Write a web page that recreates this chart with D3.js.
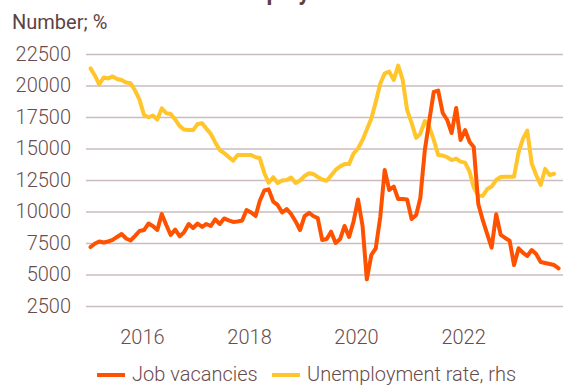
<!DOCTYPE html>
<html>
<head>
<meta charset="utf-8">
<script src="https://cdn.jsdelivr.net/npm/d3@7"></script>
<style>
  html, body { margin: 0; padding: 0; background: #fff; }
  svg { display: block; font-family: Roboto, "Noto Sans", sans-serif; }
</style>
</head>
<body>
<svg id="chart" width="565" height="385"></svg>
<script>
// Monthly observations, January 2015 onwards
const startYear = 2015;

// Job vacancies (number, left axis)
const jobVacancies = [
  7180, 7460, 7620, 7540, 7620, 7740, 7980, 8210, 7860, 7700, 8060, 8450,
  8530, 9050, 8850, 8530, 9800, 8930, 8140, 8570, 8020, 8370, 9010, 8690,
  9050, 8770, 9010, 8850, 9370, 9010, 9450, 9290, 9170, 9210, 9290, 10120,
  9920, 9640, 10830, 11670, 11760, 10790, 10520, 9920, 10200, 9800, 9210, 8530,
  9640, 9900, 9640, 9480, 7740, 7820, 8400, 7500, 7820, 8850, 7980, 9190,
  10950, 8850, 4620, 6550, 7080, 9590, 13290, 11710, 11970, 10990, 10990, 10950,
  9410, 9720, 11050, 14880, 17180, 19490, 19590, 17820, 17260, 16230, 18220, 15680,
  16470, 15520, 15120, 10600, 9330, 8210, 7130, 9780, 8140, 7900, 7680, 5750,
  7080, 6710, 6470, 6940, 6630, 5990, 5910, 5830, 5750, 5490
];

// Unemployment rate (%, right axis)
const unemploymentRate = [
  9.43, 9.13, 8.79, 9.07, 9.03, 9.11, 9.01, 8.97, 8.87, 8.84, 8.55, 8.19,
  7.58, 7.49, 7.56, 7.40, 7.84, 7.65, 7.62, 7.40, 7.14, 7.00, 6.98, 6.98,
  7.22, 7.25, 7.04, 6.83, 6.49, 6.19, 6.07, 5.91, 5.77, 5.99, 5.99, 5.99,
  5.99, 5.90, 5.87, 5.28, 4.89, 5.11, 4.88, 4.98, 5.00, 5.10, 4.88, 4.98,
  5.16, 5.27, 5.24, 5.12, 5.02, 4.97, 5.18, 5.40, 5.54, 5.63, 5.63, 6.05,
  6.25, 6.59, 7.00, 7.44, 8.10, 8.83, 9.23, 9.30, 8.97, 9.54, 8.97, 7.78,
  7.26, 6.67, 6.83, 7.34, 7.12, 6.59, 5.99, 5.97, 5.91, 5.79, 5.85, 5.73,
  5.69, 5.32, 4.70, 4.38, 4.37, 4.64, 4.74, 5.00, 5.12, 5.13, 5.13, 5.13,
  6.11, 6.65, 6.96, 5.65, 5.20, 4.80, 5.44, 5.20, 5.25
];

const leftTicks = [2500, 5000, 7500, 10000, 12500, 15000, 17500, 20000, 22500];
const yearTicks = [2016, 2018, 2020, 2022];

const titleText = "Job vacancies and unemployment";
const unitText = "Number; %";
const seriesNames = ["Job vacancies", "Unemployment rate, rhs"];

// Styling
const colVac = "#ff5200";
const colUnemp = "#ffc52a";
const textCol = "#5e4242";
const tickCol = "#6a4c4c";
const gridCol = "#cbbdbd";

const svg = d3.select("#chart");
const plot = { left: 86, right: 563, top: 54, bottom: 306 };

const monthDate = i => new Date(startYear, i, 15);

const x = d3.scaleTime()
  .domain([new Date(2015, 0, 1), new Date(2024, 0, 1)])
  .range([88.5, 570]);

const yLeft = d3.scaleLinear().domain([2500, 22500]).range([plot.bottom, plot.top]);
const yRight = d3.scaleLinear().domain([0, 10]).range([plot.bottom, plot.top]);

// Title (runs off the top edge) and unit line
svg.append("text")
  .attr("x", 11).attr("y", 0)
  .attr("font-size", 23).attr("font-weight", 700)
  .attr("fill", textCol)
  .text(titleText);

svg.append("text")
  .attr("x", 12).attr("y", 29)
  .attr("font-size", 20)
  .attr("fill", textCol)
  .text(unitText);

// Horizontal grid and left tick labels
const yAxis = d3.axisLeft(yLeft)
  .tickValues(leftTicks)
  .tickSize(-(plot.right - plot.left))
  .tickPadding(15)
  .tickFormat(d3.format("d"));

const gy = svg.append("g")
  .attr("transform", `translate(${plot.left},0)`)
  .call(yAxis);
gy.select(".domain").remove();
gy.selectAll(".tick line").attr("stroke", gridCol).attr("stroke-width", 1.3);
gy.selectAll(".tick text")
  .attr("fill", tickCol)
  .attr("font-size", 20)
  .attr("font-weight", 300)
  .attr("font-family", "Roboto, sans-serif");

// Year labels
const xAxis = d3.axisBottom(x)
  .tickValues(yearTicks.map(yr => new Date(yr, 0, 1)))
  .tickSize(0)
  .tickPadding(24)
  .tickFormat(d3.timeFormat("%Y"));

const gx = svg.append("g")
  .attr("transform", `translate(0,${plot.bottom})`)
  .call(xAxis);
gx.select(".domain").remove();
gx.selectAll(".tick text")
  .attr("fill", tickCol)
  .attr("font-size", 20)
  .attr("font-weight", 300)
  .attr("font-family", "Roboto, sans-serif");

// Series lines
const lineVac = d3.line()
  .x((d, i) => x(monthDate(i)))
  .y(d => yLeft(d));

const lineUnemp = d3.line()
  .x((d, i) => x(monthDate(i)))
  .y(d => yRight(d));

svg.append("path")
  .datum(unemploymentRate)
  .attr("fill", "none")
  .attr("stroke", colUnemp)
  .attr("stroke-width", 4)
  .attr("stroke-linejoin", "round")
  .attr("stroke-linecap", "round")
  .attr("d", lineUnemp);

svg.append("path")
  .datum(jobVacancies)
  .attr("fill", "none")
  .attr("stroke", colVac)
  .attr("stroke-width", 4)
  .attr("stroke-linejoin", "round")
  .attr("stroke-linecap", "round")
  .attr("d", lineVac);

// Legend
const legendItems = [
  { name: seriesNames[0], color: colVac, x: 97 },
  { name: seriesNames[1], color: colUnemp, x: 272 }
];
const lg = svg.append("g");
legendItems.forEach(item => {
  lg.append("line")
    .attr("x1", item.x).attr("x2", item.x + 28)
    .attr("y1", 375).attr("y2", 375)
    .attr("stroke", item.color).attr("stroke-width", 4);
  lg.append("text")
    .attr("x", item.x + 35).attr("y", 381)
    .attr("font-size", 20)
    .attr("font-weight", 300)
    .attr("fill", tickCol)
    .text(item.name);
});
</script>
</body>
</html>
